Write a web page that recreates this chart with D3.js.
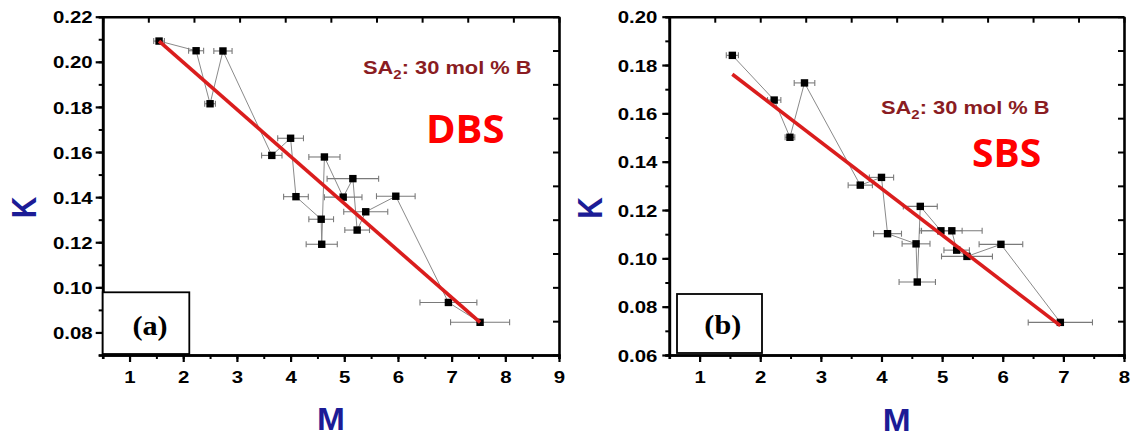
<!DOCTYPE html>
<html>
<head>
<meta charset="utf-8">
<script src="https://cdn.jsdelivr.net/npm/d3@7"></script>
<style>
  html, body { margin: 0; padding: 0; background: #fff; }
  svg { display: block; }
</style>
</head>
<body>
<svg id="chart" width="1135" height="437"></svg>
<script>
// ---- Data: K versus M for SA2 (30 mol % B) ----
// (a) DBS
const mDbs   = [1.55, 2.24, 2.50, 2.74, 3.65, 4.00, 4.10, 4.57, 4.58, 4.63, 4.98, 5.16, 5.24, 5.40, 5.96, 6.94, 7.53];
const kDbs   = [0.2092, 0.2049, 0.1814, 0.2048, 0.1585, 0.1661, 0.1402, 0.1302, 0.1191, 0.1578, 0.1400, 0.1482, 0.1254, 0.1335, 0.1404, 0.0933, 0.0845];
const errDbs = [0.10, 0.14, 0.10, 0.17, 0.19, 0.24, 0.23, 0.23, 0.29, 0.29, 0.35, 0.48, 0.23, 0.41, 0.36, 0.53, 0.55];
// (b) SBS
const mSbs   = [1.54, 2.23, 2.49, 2.73, 3.65, 4.00, 4.10, 4.57, 4.59, 4.64, 4.98, 5.16, 5.24, 5.41, 5.97, 6.95];
const kSbs   = [0.1840, 0.1655, 0.1501, 0.1726, 0.1303, 0.1335, 0.1102, 0.1060, 0.0902, 0.1215, 0.1114, 0.1114, 0.1034, 0.1008, 0.1058, 0.0735];
const errSbs = [0.10, 0.11, 0.08, 0.17, 0.20, 0.20, 0.23, 0.23, 0.30, 0.28, 0.35, 0.50, 0.21, 0.42, 0.36, 0.53];

// Linear fits K = a + b*M
const fitIntercept = [0.2415, 0.2058];
const fitSlope     = [-0.02086, -0.01923];

// Axis ticks
const xTicksA = [1, 2, 3, 4, 5, 6, 7, 8, 9];
const yTicksA = [0.08, 0.10, 0.12, 0.14, 0.16, 0.18, 0.20, 0.22];
const xTicksB = [1, 2, 3, 4, 5, 6, 7, 8];
const yTicksB = [0.06, 0.08, 0.10, 0.12, 0.14, 0.16, 0.18, 0.20];

// Text
const panelTags   = ["(a)", "(b)"];
const methodNames = ["DBS", "SBS"];
const sampleLabel = ["SA", "2", ": 30 mol % B"];
const xTitle = "M";
const yTitle = "K";

// ---- Layout ----
const layouts = [
  { left: 102.7, right: 559, top: 16.7, bottom: 355, xDomain: [0.5, 9], yDomain: [0.07, 0.22],
    xTicks: xTicksA, yTicks: yTicksA, labelPad: 3,
    sa: [363, 74], method: [426, 143, 40], tagBox: [102.7, 292.3, 189.3, 354], tag: [150, 335],
    kPos: [35.8, 207.5], mPos: [331, 430] },
  { left: 669.3, right: 1124, top: 16.7, bottom: 355, xDomain: [0.5, 8], yDomain: [0.06, 0.20],
    xTicks: xTicksB, yTicks: yTicksB, labelPad: 5,
    sa: [881, 113.7], method: [972, 167, 39], tagBox: [677, 294, 762, 353], tag: [722.8, 334],
    kPos: [601.6, 208], mPos: [896.6, 431] }
];
const series = [
  { m: mDbs, k: kDbs, err: errDbs },
  { m: mSbs, k: kSbs, err: errSbs }
];

const SX = 1.2;                 // horizontal stretch of the tick labels
const tickFont = "'Liberation Sans', Arial, sans-serif";
const svg = d3.select("#chart");
svg.append("rect").attr("width", 1135).attr("height", 437).attr("fill", "#fff");

function styleAxis(g, width) {
  g.select(".domain").attr("stroke", "#000").attr("stroke-width", 2.6);
  g.selectAll(".tick line").attr("stroke", "#000").attr("stroke-width", width);
}

layouts.forEach((L, i) => {
  const S = series[i];
  const x = d3.scaleLinear().domain(L.xDomain).range([L.left, L.right]);
  const y = d3.scaleLinear().domain(L.yDomain).range([L.bottom, L.top]);
  const g = svg.append("g");

  // Opposite axes: ten equal divisions, inward ticks
  const xFrame = d3.scaleLinear().domain([0, 10]).range([L.left, L.right]);
  const yFrame = d3.scaleLinear().domain([0, 10]).range([L.bottom, L.top]);
  g.append("g").attr("transform", `translate(0,${L.top})`)
    .call(d3.axisTop(xFrame).ticks(10).tickSizeInner(-6).tickSizeOuter(0).tickFormat(""))
    .call(a => styleAxis(a, 2));
  g.append("g").attr("transform", `translate(${L.right},0)`)
    .call(d3.axisRight(yFrame).ticks(10).tickSizeInner(-6).tickSizeOuter(0).tickFormat(""))
    .call(a => styleAxis(a, 2));

  // Minor ticks
  const xMinor = d3.range(L.xDomain[0], L.xDomain[1] + 0.01, 0.5);
  const yMinor = d3.range(Math.round(L.yDomain[0] * 100), Math.round(L.yDomain[1] * 100) + 1).map(v => v / 100);
  g.append("g").attr("transform", `translate(0,${L.bottom})`)
    .call(d3.axisBottom(x).tickValues(xMinor).tickSize(4).tickFormat(""))
    .call(a => styleAxis(a, 2));
  g.append("g").attr("transform", `translate(${L.left},0)`)
    .call(d3.axisLeft(y).tickValues(yMinor).tickSize(4).tickFormat(""))
    .call(a => styleAxis(a, 2));

  // Major ticks with labels
  const gx = g.append("g").attr("transform", `translate(0,${L.bottom})`)
    .call(d3.axisBottom(x).tickValues(L.xTicks).tickSize(7).tickSizeOuter(0).tickFormat(d3.format("d")))
    .call(a => styleAxis(a, 2.2));
  gx.selectAll(".tick text")
    .attr("y", 16).attr("dy", "0.71em")
    .attr("transform", `scale(${SX},1)`)
    .attr("fill", "#000").attr("font-family", tickFont).attr("font-weight", "bold").attr("font-size", 17);

  const gy = g.append("g").attr("transform", `translate(${L.left},0)`)
    .call(d3.axisLeft(y).tickValues(L.yTicks).tickSize(7).tickSizeOuter(0).tickFormat(d3.format(".2f")))
    .call(a => styleAxis(a, 2.2));
  gy.selectAll(".tick text")
    .attr("x", -(7 + L.labelPad) / SX).attr("dy", "0.36em")
    .attr("transform", `scale(${SX},1)`)
    .attr("fill", "#000").attr("font-family", tickFont).attr("font-weight", "bold").attr("font-size", 17);

  // Points in order of M, joined by a thin line
  const pts = S.m.map((m, j) => ({ m, k: S.k[j], e: S.err[j] }));
  g.append("path").datum(pts)
    .attr("d", d3.line().x(d => x(d.m)).y(d => y(d.k)))
    .attr("fill", "none").attr("stroke", "#8a8a8a").attr("stroke-width", 1);

  // Horizontal error bars
  const eb = g.append("g").attr("stroke", "#7a7a7a").attr("stroke-width", 1.1);
  pts.forEach(d => {
    const yy = y(d.k);
    eb.append("line").attr("x1", x(d.m - d.e)).attr("x2", x(d.m + d.e)).attr("y1", yy).attr("y2", yy);
    eb.append("line").attr("x1", x(d.m - d.e)).attr("x2", x(d.m - d.e)).attr("y1", yy - 3).attr("y2", yy + 3);
    eb.append("line").attr("x1", x(d.m + d.e)).attr("x2", x(d.m + d.e)).attr("y1", yy - 3).attr("y2", yy + 3);
  });

  // Square markers
  g.append("g").selectAll("rect").data(pts).join("rect")
    .attr("x", d => x(d.m) - 3.7).attr("y", d => y(d.k) - 3.7)
    .attr("width", 7.4).attr("height", 7.4).attr("fill", "#000");

  // Linear fit across the data range
  const m0 = d3.min(S.m), m1 = d3.max(S.m);
  const fit = [m0, m1].map(m => ({ m, k: fitIntercept[i] + fitSlope[i] * m }));
  g.append("path").datum(fit)
    .attr("d", d3.line().x(d => x(d.m)).y(d => y(d.k)))
    .attr("fill", "none").attr("stroke", "#da1d1d").attr("stroke-width", 3.6).attr("stroke-linecap", "butt");

  // Sample label
  const sa = g.append("text")
    .attr("transform", `translate(${L.sa[0]},${L.sa[1]}) scale(1.15,1)`)
    .attr("font-family", tickFont).attr("font-weight", "bold").attr("font-size", 19).attr("fill", "#8a1c22");
  sa.append("tspan").text(sampleLabel[0]);
  sa.append("tspan").attr("font-size", 13).attr("dy", 5).text(sampleLabel[1]);
  sa.append("tspan").attr("dy", -5).text(sampleLabel[2]);

  // Method name
  g.append("text").attr("x", L.method[0]).attr("y", L.method[1])
    .attr("font-family", "'Open Sans', sans-serif").attr("font-weight", 700).attr("font-size", L.method[2])
    .attr("fill", "#ff0000").text(methodNames[i]);

  // Panel tag box
  const b = L.tagBox;
  g.append("rect").attr("x", b[0]).attr("y", b[1]).attr("width", b[2] - b[0]).attr("height", b[3] - b[1])
    .attr("fill", "#fff").attr("stroke", "#000").attr("stroke-width", 1.8);
  g.append("text").attr("transform", `translate(${L.tag[0]},${L.tag[1]}) scale(1.12,1)`)
    .attr("text-anchor", "middle")
    .attr("font-family", "'Liberation Serif', 'Times New Roman', serif").attr("font-weight", "bold")
    .attr("font-size", 27).attr("fill", "#000").text(panelTags[i]);

  // Axis titles
  g.append("text").attr("transform", `translate(${L.kPos[0]},${L.kPos[1]}) rotate(-90) scale(1,1.15)`)
    .attr("text-anchor", "middle")
    .attr("font-family", tickFont).attr("font-weight", "bold").attr("font-size", 30)
    .attr("fill", "#1c1c96").text(yTitle);
  g.append("text").attr("transform", `translate(${L.mPos[0]},${L.mPos[1]}) scale(1.08,1)`)
    .attr("text-anchor", "middle")
    .attr("font-family", tickFont).attr("font-weight", "bold").attr("font-size", 31)
    .attr("fill", "#1c1c96").text(xTitle);
});
</script>
</body>
</html>
